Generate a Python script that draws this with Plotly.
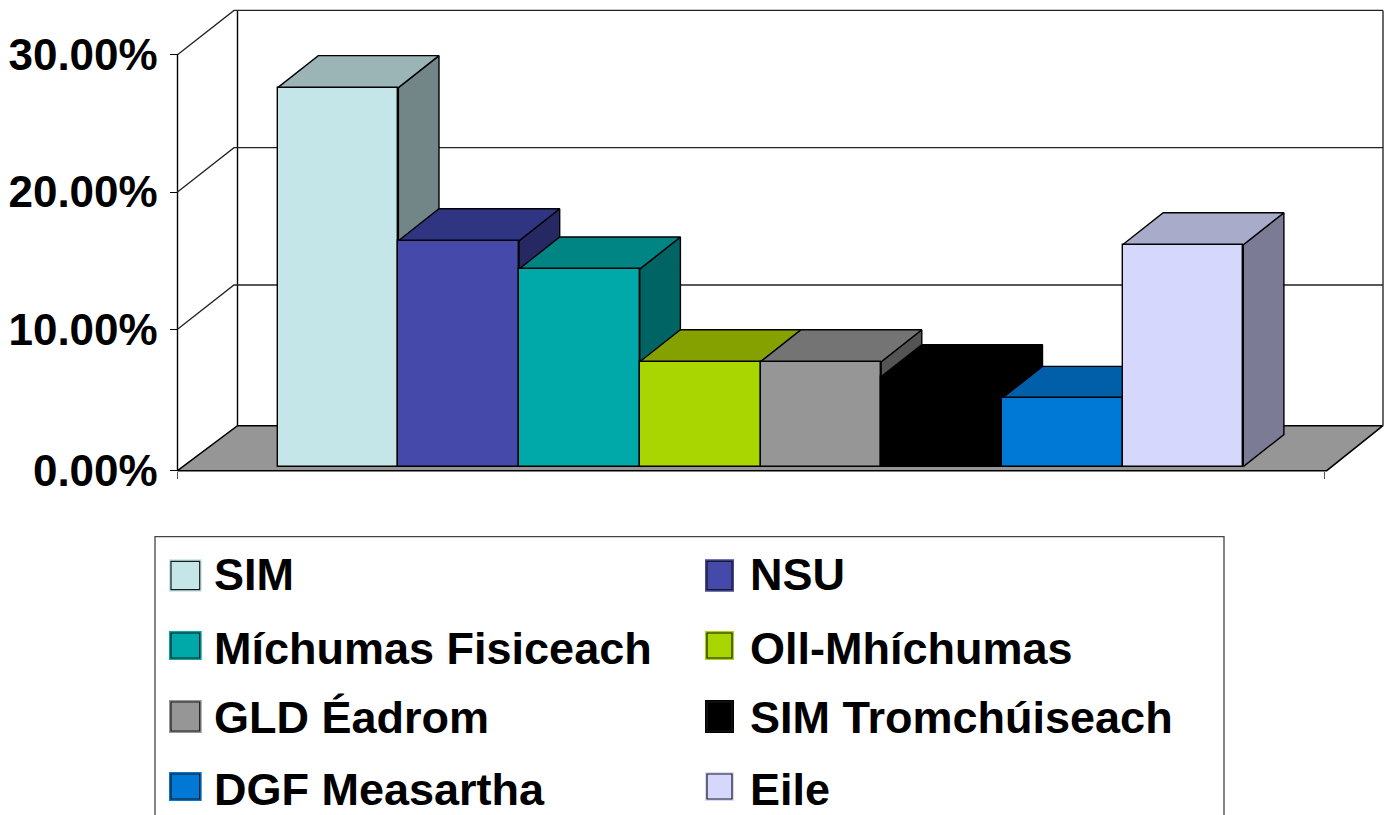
import plotly.graph_objects as go

CATEGORIES = ["SIM", "NSU", "Míchumas Fisiceach", "Oll-Mhíchumas", "GLD Éadrom",
              "SIM Tromchúiseach", "DGF Measartha", "Eile"]
VALUES = [0.276, 0.1645, 0.1439, 0.0764, 0.0764, 0.0655, 0.0497, 0.1616]
FRONT_COLORS = ["#C5E6E8", "#4549A9", "#00A9A9", "#A9D500", "#969696", "#000000", "#0079D6", "#D5D7FD"]
TOP_COLORS = ["#9BB4B6", "#303582", "#008484", "#85A100", "#747474", "#000000", "#005FA8", "#A9ABCA"]
SIDE_COLORS = ["#728587", "#252862", "#006464", "#627600", "#545454", "#000000", "#00467C", "#7B7B96"]
TICK_VALUES = [0.0, 0.1, 0.2, 0.3]
TICK_LABELS = ["0.00%", "10.00%", "20.00%", "30.00%"]

W, H = 1386, 815
FONT = "Liberation Sans"

# Axis calibration
PX_PER_X = 120.7
X0_PX = 338.05
PX_PER_Y = 1373.0
Y0_PX = 466.6


def dx(px):
    return px / PX_PER_X


def dy(px):
    return px / PX_PER_Y


def xv(px):
    return (px - X0_PX) / PX_PER_X


def yv(px):
    return (Y0_PX - px) / PX_PER_Y


FLOOR = yv(470.7)
BAR_DX, BAR_DY = dx(40.6), dy(32)
WALL_DY = dy(44.3)
x_front, x_bend, x_back, x_right, x_floor_right = xv(177.5), xv(234), xv(237.5), xv(1383), xv(1326.7)
top_val = TICK_VALUES[-1]

fig = go.Figure()


def poly(xs, ys, fill, width=1.4, line="#000000"):
    fig.add_trace(go.Scatter(x=xs, y=ys, mode="lines", fill="toself", fillcolor=fill,
                             line=dict(color=line, width=width), hoverinfo="skip",
                             showlegend=False))


def path(xs, ys, color="#000000", width=1.4):
    fig.add_trace(go.Scatter(x=xs, y=ys, mode="lines", line=dict(color=color, width=width),
                             hoverinfo="skip", showlegend=False))


# floor
poly([x_front, x_back, x_right, x_floor_right, x_front],
     [FLOOR, FLOOR + dy(45), FLOOR + dy(45), FLOOR, FLOOR], "#969696", width=1.5)

# walls
path([x_front, x_front], [FLOOR, top_val])
path([x_back, x_back], [FLOOR + dy(45), top_val + WALL_DY])
path([x_right, x_right], [FLOOR + dy(45), top_val + WALL_DY], color="#444444", width=1.6)
for v in TICK_VALUES[1:]:
    path([x_front, x_bend, x_right], [v, v + WALL_DY, v + WALL_DY], color="#222222", width=1.3)

# side and top faces, painted left to right
for i, v in enumerate(VALUES):
    l, r = i - 0.5, i + 0.5
    poly([r, r + BAR_DX, r + BAR_DX, r, r], [0, BAR_DY, v + BAR_DY, v, 0], SIDE_COLORS[i])
    poly([l, l + BAR_DX, r + BAR_DX, r, l], [v, v + BAR_DY, v + BAR_DY, v, v], TOP_COLORS[i])

# front faces on an overlaid pair of axes so they cover earlier side faces
fig.add_trace(go.Bar(x=list(range(len(VALUES))), y=VALUES, width=1.0,
                     customdata=CATEGORIES, hovertemplate="%{customdata}: %{y:.2%}<extra></extra>",
                     marker=dict(color=FRONT_COLORS, line=dict(color="#000000", width=1.4)),
                     xaxis="x2", yaxis="y2", showlegend=False))

x_range = [xv(0), xv(W)]
y_range = [yv(H), yv(0)]

fig.update_layout(
    width=W, height=H, margin=dict(l=0, r=0, t=0, b=0),
    paper_bgcolor="white", plot_bgcolor="white", showlegend=False,
    font=dict(family=FONT, color="#000000"),
    xaxis=dict(range=x_range, domain=[0, 1], anchor="free", position=1 - 470.7 / H,
               showgrid=False, zeroline=False, showline=False,
               tickmode="array", tickvals=[x_front, xv(1324)], ticktext=["", ""],
               ticks="outside", ticklen=7, tickcolor="#555555", tickwidth=1),
    yaxis=dict(range=y_range, domain=[0, 1], anchor="free", position=177.5 / W,
               showgrid=False, zeroline=False, showline=False,
               tickmode="array", tickvals=[FLOOR] + TICK_VALUES[1:], ticktext=TICK_LABELS,
               ticks="outside", ticklen=8, tickcolor="#000000", tickwidth=1,
               ticklabelstandoff=3,
               tickfont=dict(family=FONT, size=44, weight="bold", color="#000000")),
    xaxis2=dict(range=x_range, overlaying="x", visible=False),
    yaxis2=dict(range=y_range, overlaying="y", visible=False),
    bargap=0,
)


# Legend
def fx(px):
    return px / W


def fy(px):
    return 1 - px / H


shapes = [dict(type="rect", xref="paper", yref="paper", x0=fx(155), x1=fx(1224), y0=fy(536.7), y1=fy(830),
               line=dict(color="#444444", width=1.3), fillcolor="white", layer="above")]
annotations = []
ROW_TEXT_Y = [574, 648, 717, 789]
ROW_SWATCH = [(559.3, 591.7), (631, 660), (700, 733), (772, 801)]
COL_SWATCH = [(169, 201.7), (705, 734)]
COL_TEXT_X = [212, 748]
for i, name in enumerate(CATEGORIES):
    row, col = i // 2, i % 2
    y0, y1 = ROW_SWATCH[row]
    x0, x1 = COL_SWATCH[col]
    shapes.append(dict(type="rect", xref="paper", yref="paper", x0=fx(x0), x1=fx(x1),
                       y0=fy(y0), y1=fy(y1), fillcolor=FRONT_COLORS[i],
                       line=dict(width=0), layer="above"))
    shapes.append(dict(type="rect", xref="paper", yref="paper", x0=fx(x0 + 2), x1=fx(x1 - 2),
                       y0=fy(y0 + 2), y1=fy(y1 - 2), fillcolor="rgba(0,0,0,0)",
                       line=dict(color="#1a1a1a", width=1.2), layer="above"))
    annotations.append(dict(xref="paper", yref="paper", x=fx(COL_TEXT_X[col]), y=fy(ROW_TEXT_Y[row]), text=name,
                            showarrow=False, xanchor="left", yanchor="middle",
                            font=dict(family=FONT, size=45, weight="bold", color="#000000")))
fig.update_layout(shapes=shapes, annotations=annotations)

fig.write_html("out.html", config={"displayModeBar": False},
               post_script="document.body.style.margin='0';document.body.style.overflow='hidden';")
